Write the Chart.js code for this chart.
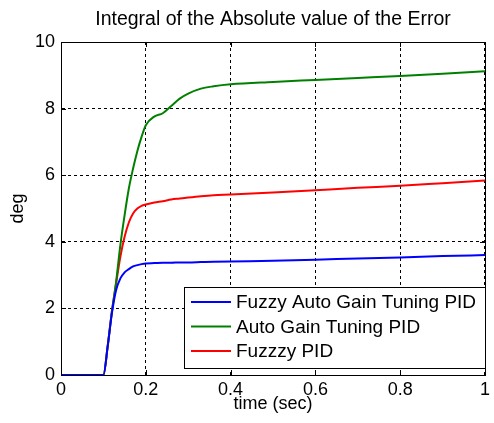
<!DOCTYPE html>
<html>
<head>
<meta charset="utf-8">
<script src="https://cdn.jsdelivr.net/npm/chart.js@4"></script>
<style>
  html, body { margin: 0; padding: 0; background: #fff; }
  #wrap { width: 494px; height: 423px; }
</style>
</head>
<body>
<div id="wrap"><canvas id="chart" width="494" height="423"></canvas></div>
<script>
// sample times (sec)
const timeVals = [0, 0.1, 0.11, 0.12, 0.13, 0.14, 0.15, 0.16, 0.17, 0.18, 0.19, 0.2,
  0.22, 0.24, 0.26, 0.28, 0.3, 0.33, 0.36, 0.4, 0.5, 0.6, 0.7, 0.8, 0.9, 1.0];

const fuzzyAutoVals = [0, 0, 0.85, 1.85, 2.55, 2.9, 3.08, 3.18, 3.26, 3.3, 3.33, 3.35,
  3.36, 3.37, 3.37, 3.38, 3.38, 3.39, 3.4, 3.41, 3.43, 3.46, 3.5, 3.53, 3.57, 3.6];
const autoGainVals = [0, 0, 0.85, 1.9, 2.8, 3.9, 4.8, 5.6, 6.2, 6.72, 7.15, 7.5,
  7.76, 7.86, 8.08, 8.3, 8.45, 8.6, 8.67, 8.73, 8.8, 8.86, 8.92, 8.98, 9.05, 9.12];
const fuzzyVals = [0, 0, 0.85, 1.9, 2.75, 3.55, 4.15, 4.58, 4.85, 5.0, 5.08, 5.12,
  5.18, 5.22, 5.27, 5.3, 5.33, 5.37, 5.4, 5.42, 5.48, 5.55, 5.62, 5.68, 5.76, 5.84];

const seriesNames = ['Fuzzy Auto Gain Tuning PID', 'Auto Gain Tuning PID', 'Fuzzzy PID'];
const seriesColors = ['#0000ff', '#008000', '#ff0000'];
const xTicks = [0, 0.2, 0.4, 0.6, 0.8, 1];
const yTicks = [0, 2, 4, 6, 8, 10];
const titleText = 'Integral of the Absolute value of the Error';

const FONT = 'Liberation Sans, Arial, sans-serif';

function toPoints(vals) {
  return vals.map((v, i) => ({ x: timeVals[i], y: v }));
}

// title over the axes, frame, inner ticks and legend box like the matlab figure
const matlabBits = {
  id: 'matlabBits',
  afterDraw(chart) {
    const ctx = chart.ctx;
    const a = chart.chartArea;
    const xs = chart.scales.x, ys = chart.scales.y;
    ctx.save();

    ctx.fillStyle = '#000';
    ctx.font = '19.5px ' + FONT;
    ctx.textAlign = 'center';
    ctx.textBaseline = 'middle';
    ctx.fillText(titleText, (a.left + a.right) / 2, 20);
    ctx.textAlign = 'left';

    ctx.strokeStyle = '#000';
    ctx.lineWidth = 1;
    ctx.setLineDash([]);
    ctx.beginPath();
    xTicks.forEach(t => {
      const px = Math.round(xs.getPixelForValue(t)) + 0.5;
      ctx.moveTo(px, a.bottom); ctx.lineTo(px, a.bottom - 5);
      ctx.moveTo(px, a.top); ctx.lineTo(px, a.top + 5);
    });
    yTicks.forEach(t => {
      const py = Math.round(ys.getPixelForValue(t)) + 0.5;
      ctx.moveTo(a.left, py); ctx.lineTo(a.left + 5, py);
      ctx.moveTo(a.right, py); ctx.lineTo(a.right - 5, py);
    });
    ctx.stroke();
    ctx.strokeRect(Math.round(a.left) + 0.5, Math.round(a.top) + 0.5,
      Math.round(a.right - a.left), Math.round(a.bottom - a.top));

    // legend
    const lx = 184.5, ly = 287.5, lw = 301, lh = 81;
    ctx.fillStyle = '#fff';
    ctx.fillRect(lx, ly, lw, lh);
    ctx.strokeRect(lx, ly, lw, lh);
    ctx.font = '19px ' + FONT;
    ctx.lineWidth = 2;
    chart.data.datasets.forEach((ds, i) => {
      const y = 302 + i * 24.5;
      ctx.strokeStyle = ds.borderColor;
      ctx.beginPath();
      ctx.moveTo(191, y); ctx.lineTo(231, y);
      ctx.stroke();
      ctx.fillStyle = '#000';
      ctx.fillText(ds.label, 236, y + 1);
    });
    ctx.restore();
  }
};

new Chart(document.getElementById('chart'), {
  type: 'line',
  data: {
    datasets: [
      { label: seriesNames[0], data: toPoints(fuzzyAutoVals), borderColor: seriesColors[0] },
      { label: seriesNames[1], data: toPoints(autoGainVals), borderColor: seriesColors[1] },
      { label: seriesNames[2], data: toPoints(fuzzyVals), borderColor: seriesColors[2] }
    ]
  },
  options: {
    responsive: false,
    animation: false,
    layout: { padding: { left: 0, right: 2, top: 42, bottom: 0 } },
    elements: {
      point: { radius: 0 },
      line: { borderWidth: 2, cubicInterpolationMode: 'monotone', fill: false }
    },
    plugins: {
      legend: { display: false },
      tooltip: { enabled: false },
      title: { display: false }
    },
    scales: {
      x: {
        type: 'linear',
        min: 0, max: 1,
        afterBuildTicks: s => { s.ticks = xTicks.map(v => ({ value: v })); },
        afterFit: s => { s.height = 48; },
        ticks: {
          color: '#000',
          padding: 4,
          font: { family: FONT, size: 18 },
          maxRotation: 0,
          callback: v => String(v)
        },
        grid: { color: '#000', lineWidth: 1, drawTicks: false },
        border: { display: true, color: '#000', dash: [3, 3] },
        title: {
          display: true, text: 'time (sec)', color: '#000',
          font: { family: FONT, size: 18 },
          padding: { top: 0, bottom: 8 }
        }
      },
      y: {
        min: 0, max: 10,
        afterBuildTicks: s => { s.ticks = yTicks.map(v => ({ value: v })); },
        afterFit: s => { s.width = 61; },
        ticks: {
          color: '#000',
          padding: 6,
          font: { family: FONT, size: 18 }
        },
        grid: { color: '#000', lineWidth: 1, drawTicks: false },
        border: { display: true, color: '#000', dash: [3, 3] },
        title: {
          display: true, text: 'deg', color: '#000',
          font: { family: FONT, size: 18 },
          padding: { top: 7.7, bottom: 0 }
        }
      }
    }
  },
  plugins: [matlabBits]
});
</script>
</body>
</html>
